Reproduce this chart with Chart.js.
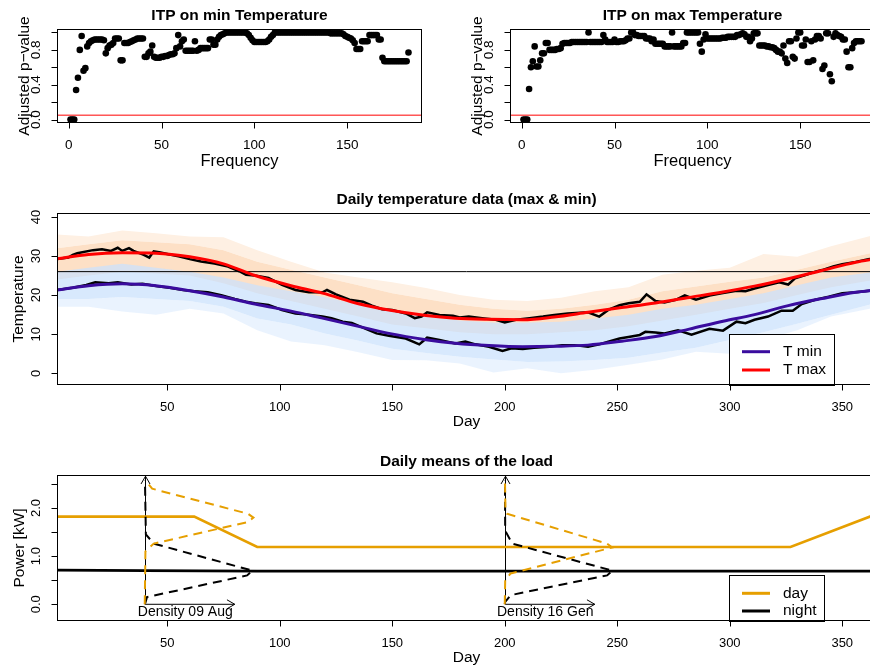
<!DOCTYPE html>
<html>
<head>
<meta charset="utf-8">
<title>ITP temperature and load</title>
<script src="https://cdn.jsdelivr.net/npm/chart.js@4.4.1/dist/chart.umd.min.js"></script>
<style>
  html, body { margin: 0; padding: 0; background: #fff; overflow: hidden; }
  #wrap { position: relative; width: 870px; height: 668px; overflow: hidden; background: #fff; }
  #wrap canvas { position: absolute; left: 0; top: 0; }
</style>
</head>
<body>
<div id="wrap">
  <canvas id="itpMin" width="906" height="668"></canvas>
  <canvas id="itpMax" width="906" height="668"></canvas>
  <canvas id="tempChart" width="906" height="668"></canvas>
  <canvas id="loadChart" width="906" height="668"></canvas>
</div>
<script>
// ---------- ITP panels (adjusted p-values per frequency) ----------
const freq = Array.from({ length: 183 }, (_, i) => i + 1);
const itpMinP = [
  0, 0, 0, 0.34, 0.48, 0.80, 0.96, 0.56, 0.59, 0.84,
  0.88, 0.90, 0.91, 0.92, 0.92, 0.92, 0.92, 0.92, 0.91, 0.76,
  0.82, 0.85, 0.86, 0.88, 0.93, 0.93, 0.93, 0.68, 0.68, 0.88,
  0.88, 0.88, 0.89, 0.90, 0.91, 0.92, 0.93, 0.93, 0.93, 0.93,
  0.72, 0.72, 0.76, 0.78, 0.85, 0.72, 0.71, 0.71, 0.71, 0.72,
  0.72, 0.73, 0.73, 0.74, 0.75, 0.75, 0.76, 0.82, 0.97, 0.84,
  0.90, 0.92, 0.79, 0.79, 0.79, 0.79, 0.79, 0.90, 0.79, 0.80,
  0.82, 0.82, 0.82, 0.82, 0.82, 0.92, 0.92, 0.86, 0.86, 0.92,
  0.95, 0.97, 0.98, 0.99, 1, 1, 1, 1, 1, 1,
  1, 1, 1, 1, 1, 0.99, 0.97, 0.94, 0.91, 0.89,
  0.89, 0.89, 0.89, 0.89, 0.89, 0.89, 0.90, 0.92, 0.95, 0.97,
  1, 1, 1, 1, 1, 1, 1, 1, 1, 1,
  1, 1, 1, 1, 1, 1, 1, 1, 1, 1,
  1, 1, 1, 1, 1, 1, 1, 1, 1, 1,
  0.99, 0.99, 0.99, 0.99, 0.99, 0.99, 0.99, 0.98, 0.96, 0.95,
  0.94, 0.93, 0.91, 0.88, 0.81, 0.81, 0.81, 0.90, 0.90, 0.90,
  0.90, 0.97, 0.97, 0.97, 0.97, 0.97, 0.92, 0.92, 0.71, 0.67,
  0.67, 0.67, 0.67, 0.67, 0.67, 0.67, 0.67, 0.67, 0.67, 0.67,
  0.67, 0.67, 0.77
];
const itpMaxP = [
  0, 0, 0, 0.35, 0.60, 0.67, 0.84, 0.61, 0.61, 0.68,
  0.76, 0.76, 0.88, 0.88, 0.80, 0.80, 0.80, 0.80, 0.81, 0.81,
  0.82, 0.87, 0.88, 0.88, 0.88, 0.88, 0.89, 0.89, 0.89, 0.89,
  0.89, 0.89, 0.89, 0.89, 0.89, 1.0, 0.89, 0.89, 0.89, 0.89,
  0.89, 0.89, 0.89, 0.97, 0.92, 0.89, 0.89, 0.89, 0.89, 0.92,
  0.89, 0.89, 0.90, 0.90, 0.90, 0.91, 0.93, 0.93, 1.0, 1.0,
  0.97, 0.97, 0.96, 0.96, 0.96, 0.96, 0.93, 0.93, 0.93, 0.90,
  0.92, 0.87, 0.87, 0.87, 0.87, 0.87, 0.84, 0.84, 0.84, 0.84,
  1.0, 0.84, 0.84, 0.84, 0.84, 0.84, 0.88, 0.88, 1.0, 1.0,
  1.0, 1.0, 1.0, 1.0, 1.0, 0.87, 0.78, 0.92, 0.98, 0.93,
  0.93, 0.93, 0.93, 0.93, 0.93, 0.93, 0.93, 0.94, 0.94, 0.94,
  0.95, 0.95, 0.95, 0.95, 0.95, 0.97, 0.97, 0.98, 0.99, 0.98,
  0.95, 0.95, 0.90, 0.93, 0.99, 0.99, 0.99, 0.85, 0.85, 0.85,
  0.85, 0.84, 0.84, 0.83, 0.83, 0.82, 0.80, 0.78, 0.78, 0.76,
  0.85, 0.70, 0.65, 0.90, 0.90, 0.72, 0.70, 0.93, 1.0, 1.0,
  0.85, 0.85, 0.92, 0.66, 0.66, 0.90, 0.68, 0.92, 0.96, 0.96,
  0.93, 0.58, 0.62, 0.99, 0.99, 0.52, 0.44, 0.95, 0.99, 0.97,
  0.96, 0.95, 0.92, 0.92, 0.78, 0.60, 0.60, 0.82, 0.88, 0.90,
  0.90, 0.90, 0.90
];
const alphaLevel = 0.05;
const freqTicks = [0, 50, 100, 150];
const pTicks = [0, 0.2, 0.4, 0.6, 0.8, 1.0];
const pTickLabels = ['0.0', '', '0.4', '', '0.8', ''];

// ---------- daily temperature panel ----------
const smoothDays = [1, 15, 30, 45, 60, 75, 89, 105, 119, 135, 148.5, 165, 178, 193, 208, 222, 237, 252, 267, 282, 297, 311, 326, 341, 356, 365];
const tMaxSmooth = [29.3, 30.4, 30.8, 30.7, 29.8, 28.0, 25.0, 22.4, 20.5, 17.8, 16.2, 14.8, 14.1, 13.8, 13.7, 14.4, 15.6, 16.8, 18.0, 19.4, 20.8, 22.3, 24.2, 26.3, 28.4, 29.3];
const tMinSmooth = [21.3, 22.4, 22.9, 22.4, 21.1, 19.5, 17.7, 15.9, 14.1, 12.0, 10.2, 8.6, 7.7, 7.1, 6.8, 6.9, 7.2, 8.2, 9.4, 11.3, 13.3, 15.0, 17.3, 19.1, 20.7, 21.3];

const obsMaxDays = [1, 6, 8, 10, 17, 21, 25, 28, 30, 33, 35, 39.6, 42, 44, 47, 51, 55, 60, 65, 71, 77, 82, 85, 89, 95, 101, 107, 113, 119, 121, 125, 131, 137, 141, 145.5, 150, 156, 160, 163, 165.5, 171, 177, 180, 184, 190, 196, 200, 205, 211, 217, 222, 228, 237, 242, 246, 251, 255, 260, 263, 267, 271, 276, 280, 285, 291, 297, 303, 307, 311, 317, 322, 326, 329, 334, 338, 341, 346, 350, 356, 362, 365];
const obsMax = [29.2, 29.6, 30.3, 30.7, 31.5, 31.7, 31.3, 32.1, 31.3, 32.0, 31.3, 30.3, 29.6, 31.2, 30.9, 30.4, 29.9, 29.2, 28.6, 28.1, 27.3, 26.1, 25.2, 25.0, 24.4, 22.6, 21.3, 20.7, 20.7, 21.3, 20.2, 18.8, 18.3, 17.3, 16.4, 16.2, 15.3, 14.1, 14.5, 15.6, 14.9, 14.7, 14.3, 14.5, 14.1, 13.7, 13.0, 13.7, 14.1, 14.5, 14.9, 15.3, 15.6, 14.5, 16.2, 17.4, 17.9, 18.3, 20.2, 18.5, 18.1, 18.8, 19.9, 18.8, 19.9, 20.5, 21.1, 21.0, 21.7, 22.6, 23.3, 22.7, 24.3, 25.2, 26.0, 26.4, 27.3, 27.9, 28.5, 29.2, 28.9];
const obsMinDays = [1, 8, 14, 18, 24, 28, 34, 39, 45, 51, 57, 62, 68, 74, 80, 85, 89, 95, 101, 107, 111, 119, 123, 128, 132, 138, 143, 148.5, 156, 162, 165.5, 171, 178, 182.5, 187, 193, 199, 203, 208, 213, 220, 225.5, 231, 237, 242, 246, 251, 255, 260, 262.5, 267, 271, 277, 283, 291, 297, 303, 307, 311, 317, 323, 328, 332, 338, 344, 350, 356, 362, 365];
const obsMin = [21.3, 21.9, 22.6, 23.3, 23.0, 23.3, 22.7, 22.9, 22.3, 21.9, 21.3, 21.0, 20.7, 20.0, 19.0, 18.3, 17.9, 17.5, 16.2, 15.3, 15.1, 14.5, 14.1, 13.2, 12.9, 11.4, 10.2, 9.6, 8.9, 7.4, 9.1, 8.5, 7.6, 8.1, 7.4, 6.8, 5.7, 6.4, 6.2, 6.5, 6.8, 7.2, 7.2, 6.8, 7.4, 8.1, 8.9, 9.3, 9.8, 10.6, 10.4, 10.2, 11.0, 9.9, 11.4, 10.9, 13.2, 12.8, 13.7, 14.5, 16.0, 16.0, 17.7, 18.8, 19.6, 20.5, 20.7, 21.1, 21.2];

// envelopes of the yearly curves behind (orange = max, blue = min)
const envDays = [1, 15, 30, 45, 60, 75, 90, 105, 120, 135, 150, 165, 180, 195, 210, 225, 240, 255, 270, 285, 300, 315, 330, 345, 365];
const maxCloudTop = [35.5, 35, 36.5, 35.8, 35, 34.8, 31.5, 28.5, 25.8, 24.5, 23.3, 21.8, 20, 18.8, 18.5, 19.3, 21, 22, 25.2, 26.2, 27, 30.5, 29.8, 32.5, 35.5];
const maxCloudCore = [32, 33, 34, 33.5, 33, 31.5, 28.5, 26.5, 24.5, 22.5, 20.5, 19, 17.5, 16.5, 16, 16.5, 17.5, 18.8, 21, 22.2, 23.4, 24.5, 26.5, 28.5, 31];
const maxCloudBottom = [24, 25, 26, 25.5, 25, 23, 20.5, 18.5, 16.5, 14.5, 12.5, 11.5, 10.5, 10, 10, 10.5, 11, 12, 13.5, 15, 16.5, 18, 20, 22, 24];
const minCloudTop = [26, 27, 28, 27, 26, 24.5, 22.5, 21, 19.5, 17.5, 16, 14.5, 13.5, 13, 13, 13.2, 14, 15, 16.5, 17.5, 19, 20.5, 22.5, 24.5, 26];
const minCloudCore = [19, 19, 19.5, 19, 18.5, 17, 14, 12.5, 10.2, 8.3, 6.3, 5.2, 4.2, 3.5, 2.9, 3.0, 3.4, 4.0, 5.3, 6.5, 8.5, 10.5, 12.7, 15, 18];
const minCloudBottom = [17, 17, 15.8, 15, 16.5, 15.3, 11, 8.1, 7.2, 5.4, 3.4, 3.3, 2.5, 0.2, 1.3, 0.0, 0.9, 2.2, 3.5, 5.5, 5.0, 8.5, 11, 14.5, 16.8];
const tempRef = 26;
const dayTicks = [50, 100, 150, 200, 250, 300, 350];
const tempTicks = [0, 10, 20, 30, 40];

// ---------- load panel ----------
const dayLoadDays = [1, 62, 90, 327, 365];
const dayLoad = [1.82, 1.82, 1.19, 1.19, 1.87];
const nightLoadDays = [1, 40, 90, 365];
const nightLoad = [0.71, 0.70, 0.69, 0.69];
const augDayKw = [0, 1.10, 1.26, 1.71, 1.80, 1.88, 2.40, 2.57];
const augDayX = [40, 40.3, 44, 85.9, 88.3, 85.9, 43.3, 40.4];
const augNightKw = [0, 0.05, 0.15, 0.60, 0.70, 1.26, 1.45, 2.57];
const augNightX = [40, 40.4, 41, 85.5, 87.8, 44, 40.5, 40.1];
const genDayKw = [0, 0.50, 0.64, 1.18, 1.26, 1.88, 2.0, 2.57];
const genDayX = [200, 200.2, 202.6, 247.8, 245.5, 201, 200.3, 200.1];
const genNightKw = [0, 0.05, 0.19, 0.60, 0.70, 1.26, 1.53, 2.57];
const genNightX = [200, 200.2, 202.6, 245.5, 247.8, 203.3, 200.2, 200.1];
const densityAt = [40, 200];
const densityLabels = ['Density 09 Aug', 'Density 16 Gen'];
const densitySpan = 40;
const densityTop = 2.66;
const powerTicks = [0, 0.5, 1, 1.5, 2, 2.5];
const powerTickLabels = ['0.0', '', '1.0', '', '2.0', ''];

const FONT = '"Liberation Sans", Arial, Helvetica, sans-serif';
const RED = '#FF0000', PURPLE = '#3A0C9E', ORANGE = '#E69F00';

const pts = (xs, ys) => xs.map((x, i) => ({ x: x, y: ys[i] }));

function arrow(ctx, x0, y0, x1, y1) {
  const ang = Math.atan2(y1 - y0, x1 - x0), h = 9;
  ctx.beginPath();
  ctx.moveTo(x0, y0); ctx.lineTo(x1, y1);
  ctx.moveTo(x1 - h * Math.cos(ang - Math.PI / 6), y1 - h * Math.sin(ang - Math.PI / 6));
  ctx.lineTo(x1, y1);
  ctx.lineTo(x1 - h * Math.cos(ang + Math.PI / 6), y1 - h * Math.sin(ang + Math.PI / 6));
  ctx.stroke();
}

// R base-graphics look: box, outward ticks, rotated y labels, titles, legend
const rBase = {
  id: 'rBase',
  beforeDatasetsDraw(chart, args, o) {
    if (!o.arrows) return;
    const ctx = chart.ctx, xs = chart.scales.x, ys = chart.scales.y;
    ctx.save();
    ctx.strokeStyle = '#000'; ctx.lineWidth = 1;
    densityAt.forEach(d => {
      const x0 = Math.round(xs.getPixelForValue(d)) + 0.5, y0 = ys.getPixelForValue(0);
      arrow(ctx, x0, y0, x0, ys.getPixelForValue(densityTop));
      arrow(ctx, x0, y0, xs.getPixelForValue(d + densitySpan), y0);
    });
    ctx.restore();
  },
  afterDatasetsDraw(chart, args, o) {
    const ctx = chart.ctx, xs = chart.scales.x, ys = chart.scales.y;
    ctx.save();
    if (o.arrows) {
      ctx.fillStyle = '#000'; ctx.font = '14px ' + FONT;
      ctx.textAlign = 'center'; ctx.textBaseline = 'middle';
      densityAt.forEach((d, i) => {
        ctx.fillText(densityLabels[i], xs.getPixelForValue(d + densitySpan * 0.45), ys.getPixelForValue(0) + 8);
      });
    }
    if (o.legend) {
      const L = o.legend;
      ctx.fillStyle = '#fff';
      ctx.fillRect(L.x, L.y, L.w, L.h);
      ctx.strokeStyle = '#000'; ctx.lineWidth = 1;
      ctx.strokeRect(L.x + 0.5, L.y + 0.5, L.w, L.h);
      L.items.forEach((it, i) => {
        const y = L.y + L.first + i * L.step;
        ctx.strokeStyle = it.color; ctx.lineWidth = 3;
        ctx.beginPath(); ctx.moveTo(L.x + 13, y); ctx.lineTo(L.x + 41, y); ctx.stroke();
        ctx.fillStyle = '#000'; ctx.font = '15.5px ' + FONT;
        ctx.textAlign = 'left'; ctx.textBaseline = 'middle';
        ctx.fillText(it.label, L.x + 54, y);
      });
    }
    ctx.restore();
  },
  afterDraw(chart, args, o) {
    const ctx = chart.ctx, a = chart.chartArea, xs = chart.scales.x, ys = chart.scales.y;
    ctx.save();
    ctx.strokeStyle = '#000'; ctx.lineWidth = 1;
    const L = Math.round(a.left) + 0.5, T = Math.round(a.top) + 0.5;
    const R = Math.round(a.right) - 0.5, B = Math.round(a.bottom) - 0.5;
    ctx.strokeRect(L, T, R - L, B - T);
    ctx.beginPath();
    o.xTicks.forEach(v => {
      const px = Math.round(xs.getPixelForValue(v)) + 0.5;
      ctx.moveTo(px, B); ctx.lineTo(px, B + 6);
    });
    o.yTicks.forEach(v => {
      const py = Math.round(ys.getPixelForValue(v)) + 0.5;
      ctx.moveTo(L, py); ctx.lineTo(L - 6, py);
    });
    ctx.stroke();
    ctx.fillStyle = '#000';
    ctx.textAlign = 'center'; ctx.textBaseline = 'middle';
    ctx.font = o.tickSize + 'px ' + FONT;
    o.xTicks.forEach((v, i) => {
      ctx.fillText(String(o.xLabels ? o.xLabels[i] : v), xs.getPixelForValue(v), B + 22.5);
    });
    o.yTicks.forEach((v, i) => {
      const lab = o.yLabels ? o.yLabels[i] : String(v);
      if (!lab) return;
      ctx.save();
      ctx.translate(L - 21.5, ys.getPixelForValue(v));
      ctx.rotate(-Math.PI / 2);
      ctx.fillText(lab, 0, 0);
      ctx.restore();
    });
    ctx.font = o.labelSize + 'px ' + FONT;
    ctx.fillText(o.xTitle, (a.left + a.right) / 2, B + o.xTitleOff);
    ctx.save();
    ctx.translate(L - o.yTitleOff, (a.top + a.bottom) / 2);
    ctx.rotate(-Math.PI / 2);
    ctx.font = (o.yLabelSize || o.labelSize) + 'px ' + FONT;
    ctx.fillText(o.yTitle, 0, 0);
    ctx.restore();
    ctx.font = 'bold 15.5px ' + FONT;
    ctx.fillText(o.main, (a.left + a.right) / 2, T - 14);
    ctx.restore();
  }
};
Chart.register(rBase);

function baseOptions(pad, xr, yr, rb) {
  return {
    responsive: false,
    animation: false,
    events: [],
    layout: { padding: pad },
    scales: {
      x: { type: 'linear', min: xr[0], max: xr[1], display: false },
      y: { type: 'linear', min: yr[0], max: yr[1], display: false }
    },
    plugins: { legend: { display: false }, tooltip: { enabled: false }, rBase: rb }
  };
}

function line(data, color, width, extra) {
  return Object.assign({
    data: data, borderColor: color, backgroundColor: color, borderWidth: width,
    pointRadius: 0, showLine: true, fill: false, tension: 0
  }, extra || {});
}

function makeItp(id, pvals, title, left) {
  new Chart(document.getElementById(id), {
    type: 'scatter',
    data: {
      datasets: [
        line([{ x: -6.28, y: alphaLevel }, { x: 190.28, y: alphaLevel }], RED, 1),
        {
          data: pts(freq, pvals), showLine: false,
          pointRadius: 3.3, pointBorderWidth: 0,
          pointBackgroundColor: '#000', pointBorderColor: '#000'
        }
      ]
    },
    options: baseOptions(
      { left: left, top: 29, right: 906 - left - 365, bottom: 545 },
      [-6.28, 190.28], [-0.04, 1.04],
      {
        main: title, xTitle: 'Frequency', yTitle: 'Adjusted p\u2212value',
        xTicks: freqTicks, yTicks: pTicks, yLabels: pTickLabels,
        tickSize: 13.5, labelSize: 16.5, yLabelSize: 15.5, xTitleOff: 39, yTitleOff: 33
      }
    )
  });
}
makeItp('itpMin', itpMinP, 'ITP on min Temperature', 57);
makeItp('itpMax', itpMaxP, 'ITP on max Temperature', 510);

// temperature panel
const BLUE_CORE = 'rgba(203,225,252,0.75)', BLUE_OUT = 'rgba(222,236,253,0.65)';
const PEACH_CORE = '#FDE0C6', PEACH_OUT = '#FEF0E3';
const band = (color, target) => ({ borderWidth: 0, fill: { target: target }, backgroundColor: color });
new Chart(document.getElementById('tempChart'), {
  type: 'scatter',
  data: {
    datasets: [
      line(pts(smoothDays, tMaxSmooth), RED, 3, { cubicInterpolationMode: 'monotone' }),          // 0
      line(pts(smoothDays, tMinSmooth), PURPLE, 3, { cubicInterpolationMode: 'monotone' }),       // 1
      line(pts(obsMaxDays, obsMax), '#000', 2.5),                                                // 2
      line(pts(obsMinDays, obsMin), '#000', 2.5),                                                // 3
      line([{ x: 1, y: tempRef }, { x: 365, y: tempRef }], '#000', 1),                          // 4
      line(pts(envDays, minCloudTop), BLUE_CORE, 0, band(BLUE_CORE, 6)),                         // 5
      line(pts(envDays, minCloudCore), 'rgba(0,0,0,0)', 0),                                      // 6
      line(pts(envDays, minCloudCore), BLUE_OUT, 0, band(BLUE_OUT, 8)),                          // 7
      line(pts(envDays, minCloudBottom), 'rgba(0,0,0,0)', 0),                                    // 8
      line(pts(envDays, maxCloudCore), PEACH_CORE, 0, band(PEACH_CORE, 10)),                     // 9
      line(pts(envDays, maxCloudBottom), 'rgba(0,0,0,0)', 0),                                    // 10
      line(pts(envDays, maxCloudTop), PEACH_OUT, 0, band(PEACH_OUT, 12)),                        // 11
      line(pts(envDays, maxCloudCore), 'rgba(0,0,0,0)', 0)                                       // 12
    ]
  },
  options: baseOptions(
    { left: 57, top: 213, right: 30, bottom: 283 },
    [1, 365], [-3, 41],
    {
      main: 'Daily temperature data (max & min)', xTitle: 'Day', yTitle: 'Temperature',
      xTicks: dayTicks, yTicks: tempTicks,
      tickSize: 13, labelSize: 15.5, xTitleOff: 37, yTitleOff: 38.5,
      legend: { x: 729, y: 334, w: 105, h: 51, first: 17.7, step: 18.3,
        items: [{ label: 'T min', color: PURPLE }, { label: 'T max', color: RED }] }
    }
  )
});

// load panel
const dash = { borderDash: [9, 6] };
new Chart(document.getElementById('loadChart'), {
  type: 'scatter',
  data: {
    datasets: [
      line(pts(augDayX, augDayKw), ORANGE, 2, dash),
      line(pts(augNightX, augNightKw), '#000', 2, dash),
      line(pts(genDayX, genDayKw), ORANGE, 2, dash),
      line(pts(genNightX, genNightKw), '#000', 2, dash),
      line(pts(dayLoadDays, dayLoad), ORANGE, 2.7),
      line(pts(nightLoadDays, nightLoad), '#000', 2.7)
    ]
  },
  options: baseOptions(
    { left: 57, top: 475, right: 30, bottom: 47 },
    [1, 365], [-0.347, 2.685],
    {
      main: 'Daily means of the load', xTitle: 'Day', yTitle: 'Power [kW]',
      xTicks: dayTicks, yTicks: powerTicks, yLabels: powerTickLabels,
      tickSize: 13, labelSize: 15.5, xTitleOff: 37.5, yTitleOff: 38,
      arrows: true,
      legend: { x: 729, y: 575, w: 95, h: 46, first: 18.3, step: 17.7,
        items: [{ label: 'day', color: ORANGE }, { label: 'night', color: '#000' }] }
    }
  )
});
</script>
</body>
</html>
